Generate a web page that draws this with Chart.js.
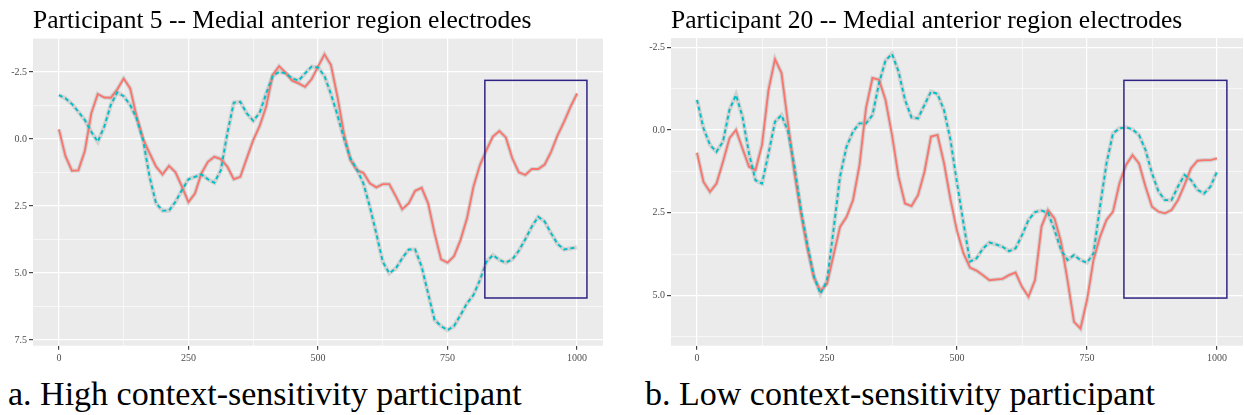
<!DOCTYPE html>
<html>
<head>
<meta charset="utf-8">
<script src="https://cdn.jsdelivr.net/npm/chart.js@4.4.1/dist/chart.umd.min.js"></script>
<style>
  html, body { margin:0; padding:0; background:#ffffff; }
  body { width:1244px; height:415px; position:relative; overflow:hidden; font-family:"Liberation Serif", "DejaVu Serif", serif; color:#000; }
  .title { position:absolute; top:7px; font-size:25.5px; line-height:25.5px; white-space:nowrap; }
  .caption { position:absolute; top:377px; font-size:34px; line-height:34px; white-space:nowrap; }
  canvas { position:absolute; top:0; }
</style>
</head>
<body>
<canvas id="c1" width="620" height="370" style="left:0"></canvas>
<canvas id="c2" width="624" height="370" style="left:620px"></canvas>
<div class="title" style="left:33px">Participant 5 -- Medial anterior region electrodes</div>
<div class="title" style="left:671px">Participant 20 -- Medial anterior region electrodes</div>
<div class="caption" style="left:8px">a. High context-sensitivity participant</div>
<div class="caption" style="left:645px">b. Low context-sensitivity participant</div>
<script>
// time points (ms)
const timeMs = [0,12.5,25,37.5,50,62.5,75,87.5,100,112.5,125,137.5,150,162.5,175,187.5,200,212.5,225,237.5,
  250,262.5,275,287.5,300,312.5,325,337.5,350,362.5,375,387.5,400,412.5,425,437.5,450,462.5,475,487.5,
  500,512.5,525,537.5,550,562.5,575,587.5,600,612.5,625,637.5,650,662.5,675,687.5,700,712.5,725,737.5,
  750,762.5,775,787.5,800,812.5,825,837.5,850,862.5,875,887.5,900,912.5,925,937.5,950,962.5,975,987.5,1000];

// Participant 5 (left panel)
const p5Red = [-0.36,0.63,1.18,1.17,0.45,-0.96,-1.68,-1.55,-1.54,-1.85,-2.26,-1.89,-0.83,0.00,0.53,1.03,1.32,1.00,1.24,1.78,
  2.35,2.03,1.28,0.85,0.66,0.75,1.03,1.50,1.41,0.72,0.04,-0.49,-1.21,-2.39,-2.72,-2.48,-2.18,-2.08,-1.95,-2.23,
  -2.70,-3.16,-2.76,-1.58,-0.21,0.78,1.16,1.26,1.65,1.80,1.68,1.68,2.13,2.62,2.40,1.93,1.82,2.40,3.52,4.49,
  4.61,4.37,3.77,2.96,1.78,0.97,0.41,-0.09,-0.30,-0.06,0.72,1.24,1.34,1.12,1.12,0.95,0.47,-0.15,-0.65,-1.21,-1.70];
const p5Cyan = [-1.64,-1.52,-1.31,-1.02,-0.71,-0.27,0.10,-0.46,-1.27,-1.74,-1.60,-1.27,-0.77,0.04,1.41,2.40,2.67,2.67,2.34,1.90,
  1.50,1.41,1.32,1.50,1.63,1.16,-0.21,-1.36,-1.39,-0.96,-0.68,-0.98,-1.70,-2.35,-2.51,-2.45,-2.26,-2.18,-2.45,-2.70,
  -2.67,-2.35,-1.68,-0.90,-0.02,0.72,1.13,1.65,2.52,3.52,4.58,5.01,4.83,4.45,4.12,4.12,4.76,5.76,6.75,6.98,
  7.13,6.98,6.57,6.13,5.82,5.26,4.58,4.33,4.51,4.61,4.49,4.17,3.74,3.27,2.90,3.08,3.52,3.92,4.12,4.08,4.04];

// Participant 20 (right panel)
const p20Red = [0.69,1.57,1.87,1.62,0.96,0.25,0.00,0.56,1.11,1.21,0.45,-1.21,-2.14,-1.72,-0.20,1.31,2.53,3.59,4.46,4.87,
  4.65,3.79,2.93,2.63,2.12,1.06,-0.66,-1.57,-1.52,-0.91,0.15,1.41,2.22,2.30,1.97,1.26,0.20,0.15,1.00,2.10,
  3.05,3.73,4.16,4.25,4.39,4.54,4.52,4.50,4.39,4.31,4.74,5.04,4.54,2.92,2.42,2.67,3.38,4.54,5.80,6.00,
  5.14,3.93,3.23,2.72,2.47,1.61,1.06,0.76,1.01,1.71,2.32,2.47,2.52,2.42,2.12,1.66,1.16,0.93,0.91,0.91,0.86];
const p20Cyan = [-0.91,-0.05,0.45,0.66,0.35,-0.61,-1.06,-0.40,0.71,1.52,1.62,0.71,-0.25,-0.45,0.05,1.11,2.42,3.48,4.44,4.95,
  4.55,3.03,1.41,0.51,0.05,-0.20,-0.20,-0.45,-1.41,-2.10,-2.30,-1.77,-0.91,-0.38,-0.35,-0.76,-1.16,-1.09,-0.60,0.30,
  1.60,2.82,3.98,3.88,3.58,3.40,3.46,3.53,3.66,3.58,3.18,2.72,2.48,2.44,2.50,3.02,3.63,3.93,3.78,3.93,
  4.01,3.73,2.32,1.01,0.10,-0.05,-0.08,-0.02,0.15,0.60,1.31,1.86,2.12,2.12,1.71,1.36,1.51,1.81,1.92,1.71,1.26];

// tick labels
const xTickLabels = [0, 250, 500, 750, 1000];
const p5YTickLabels = [-2.5, 0, 2.5, 5, 7.5];
const p20YTickLabels = [-2.5, 0, 2.5, 5];

// highlighted window (data coordinates)
const p5BoxX = [822, 1019];
const p5BoxY = [-2.19, 5.93];
const p20BoxX = [821, 1019];
const p20BoxY = [-1.50, 5.08];

const RED = '#F8766D', CYAN = '#00BFC4', BOX = '#2f2483';
const TICKFONT = { family: '"Liberation Serif", "DejaVu Serif", serif', size: 10 };

function isIn(list, v) { return list.some(t => Math.abs(t - v) < 1e-6); }

const panelBg = {
  id: 'panelBg',
  beforeDraw(chart) {
    const a = chart.chartArea, c = chart.ctx;
    c.save(); c.fillStyle = '#EBEBEB';
    c.fillRect(a.left, a.top, a.right - a.left, a.bottom - a.top);
    c.restore();
  }
};
const boxPlugin = {
  id: 'boxPlugin',
  afterDatasetsDraw(chart, args, opts) {
    const xs = chart.scales.x, ys = chart.scales.y, c = chart.ctx;
    const x0 = xs.getPixelForValue(opts.bx[0]), x1 = xs.getPixelForValue(opts.bx[1]);
    const y0 = ys.getPixelForValue(opts.by[0]), y1 = ys.getPixelForValue(opts.by[1]);
    c.save(); c.strokeStyle = BOX; c.lineWidth = 1.5;
    c.strokeRect(x0, y0, x1 - x0, y1 - y0);
    c.restore();
  }
};

function pts(vals) { return timeMs.map((t, i) => ({ x: t, y: vals[i] })); }

function makeChart(id, red, cyan, yTicks, yMin, yMax, yWidth, padTop, padRight, bx, by) {
  const halo = { borderColor: 'rgba(150,150,150,0.3)', borderWidth: 4.2, pointRadius: 0, tension: 0 };
  return new Chart(document.getElementById(id), {
    type: 'line',
    data: {
      datasets: [
        Object.assign({ data: pts(red), order: 4 }, halo),
        Object.assign({ data: pts(cyan), order: 3 }, halo),
        { data: pts(red), borderColor: RED, borderWidth: 1.9, pointRadius: 0, tension: 0, order: 2 },
        { data: pts(cyan), borderColor: CYAN, borderWidth: 1.9, borderDash: [4, 3], pointRadius: 0, tension: 0, order: 1 }
      ]
    },
    options: {
      responsive: false,
      animation: false,
      events: [],
      layout: { padding: { top: padTop, right: padRight, left: 0, bottom: 0 } },
      plugins: { legend: { display: false }, tooltip: { enabled: false }, boxPlugin: { bx: bx, by: by } },
      scales: {
        x: {
          type: 'linear', min: -50, max: 1050,
          afterFit(s) { s.height = 24.3; },
          border: { display: false },
          grid: {
            color: '#ffffff',
            lineWidth: c => (c.tick && isIn(xTickLabels, c.tick.value)) ? 1.2 : 0.6,
            tickColor: c => (c.tick && isIn(xTickLabels, c.tick.value)) ? '#444444' : 'rgba(0,0,0,0)',
            tickLength: 4
          },
          ticks: {
            stepSize: 125, autoSkip: false, maxRotation: 0, includeBounds: false,
            color: '#4D4D4D', font: TICKFONT, padding: 3,
            callback: v => isIn(xTickLabels, v) ? String(v) : ''
          }
        },
        y: {
          type: 'linear', reverse: true, min: yMin, max: yMax,
          afterFit(s) { s.width = yWidth; },
          border: { display: false },
          grid: {
            color: '#ffffff',
            lineWidth: c => (c.tick && isIn(yTicks, c.tick.value)) ? 1.2 : 0.6,
            tickColor: c => (c.tick && isIn(yTicks, c.tick.value)) ? '#444444' : 'rgba(0,0,0,0)',
            tickLength: 4
          },
          ticks: {
            stepSize: 1.25, autoSkip: false, includeBounds: false,
            color: '#4D4D4D', font: TICKFONT, padding: 2,
            callback: v => isIn(yTicks, v) ? v.toFixed(1) : ''
          }
        }
      }
    },
    plugins: [panelBg, boxPlugin]
  });
}

makeChart('c1', p5Red, p5Cyan, p5YTickLabels, -3.77, 7.71, 33, 38, 17, p5BoxX, p5BoxY);
makeChart('c2', p20Red, p20Cyan, p20YTickLabels, -2.78, 6.52, 51, 38, 1, p20BoxX, p20BoxY);
</script>
</body>
</html>
